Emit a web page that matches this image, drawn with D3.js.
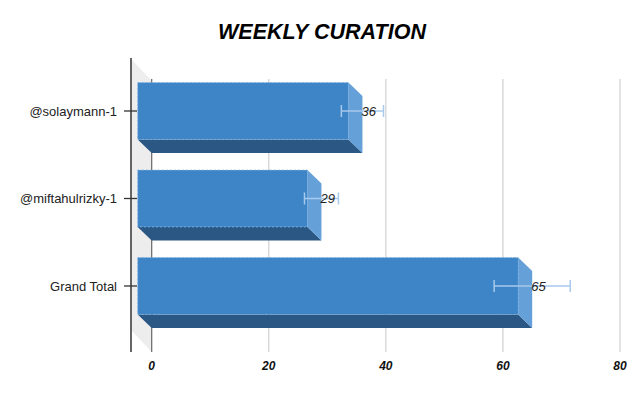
<!DOCTYPE html>
<html lang="en">
<head>
    <meta charset="UTF-8">
    <title>Weekly Curation</title>
    <script src="https://d3js.org/d3.v7.min.js"></script>
    <style>
        body { margin: 0; background: #fff; }
        svg { font-family: "Liberation Sans", Arial, sans-serif; }
    </style>
</head>
<body>
    <div id="chart"></div>
    <script>
        // Data
        const categories = ["@solaymann-1", "@miftahulrizky-1", "Grand Total"];
        const values = [36, 29, 65];
        const errorPct = 0.1;
        const xTicks = [0, 20, 40, 60, 80];

        const width = 640, height = 394;
        const depthX = 14, depthY = 13.5;

        const svg = d3.select("#chart")
            .append("svg")
            .attr("width", width)
            .attr("height", height);

        // Scales
        const x = d3.scaleLinear()
            .domain([0, 80])
            .range([151.7, 620]);

        const y = d3.scaleBand()
            .domain(categories)
            .range([67.25, 329.75])
            .paddingInner(0.35)
            .paddingOuter(0.175);

        const axisX = 131, plotTop = 59, plotBottom = 352;

        // Title
        svg.append("text")
            .attr("x", 322)
            .attr("y", 39)
            .attr("text-anchor", "middle")
            .attr("font-size", "21.5px")
            .attr("font-weight", "bold")
            .attr("font-style", "italic")
            .attr("fill", "#000")
            .text("WEEKLY CURATION");

        // Side wall (3d)
        svg.append("polygon")
            .attr("points", [
                [axisX, plotTop], [x(0), plotTop + 22],
                [x(0), plotBottom], [axisX, plotBottom - 22]
            ].map(p => p.join(",")).join(" "))
            .attr("fill", "#ededed");

        // Vertical grid lines
        svg.append("g")
            .selectAll("line")
            .data(xTicks)
            .join("line")
            .attr("x1", d => x(d))
            .attr("x2", d => x(d))
            .attr("y1", plotTop + 20)
            .attr("y2", plotBottom)
            .attr("stroke", d => d === 0 ? "#666" : "#d0d0d0")
            .attr("stroke-width", 1.2);

        // X tick labels
        svg.append("g")
            .selectAll("text")
            .data(xTicks)
            .join("text")
            .attr("x", d => x(d))
            .attr("y", 370)
            .attr("text-anchor", "middle")
            .attr("font-size", "12px")
            .attr("font-weight", "bold")
            .attr("font-style", "italic")
            .attr("fill", "#111")
            .text(d => d);

        // Left axis
        svg.append("line")
            .attr("x1", axisX).attr("x2", axisX)
            .attr("y1", plotTop - 1).attr("y2", plotBottom)
            .attr("stroke", "#333")
            .attr("stroke-width", 1.5);

        // Category ticks and labels
        const cat = svg.append("g")
            .selectAll("g")
            .data(categories)
            .join("g")
            .attr("transform", d => `translate(0, ${y(d) + y.bandwidth() / 2})`);

        cat.append("line")
            .attr("x1", 124).attr("x2", 137)
            .attr("stroke", "#333")
            .attr("stroke-width", 1.3);

        cat.append("text")
            .attr("x", 117)
            .attr("dy", "0.35em")
            .attr("text-anchor", "end")
            .attr("font-size", "13px")
            .attr("fill", "#222")
            .text(d => d);

        // Bars (3d boxes)
        const bars = svg.append("g")
            .selectAll("g")
            .data(values)
            .join("g");

        const pts = arr => arr.map(p => p.join(",")).join(" ");

        // bottom face
        bars.append("polygon")
            .attr("points", (d, i) => {
                const yb = y(categories[i]) + y.bandwidth();
                return pts([[x(0) - depthX, yb], [x(d) - depthX, yb], [x(d), yb + depthY], [x(0), yb + depthY]]);
            })
            .attr("fill", "#2a5784");

        // right face
        bars.append("polygon")
            .attr("points", (d, i) => {
                const yt = y(categories[i]), yb = yt + y.bandwidth();
                return pts([[x(d) - depthX, yt], [x(d), yt + depthY], [x(d), yb + depthY], [x(d) - depthX, yb]]);
            })
            .attr("fill", "#66a0d8");

        // front face
        bars.append("rect")
            .attr("x", x(0) - depthX)
            .attr("y", (d, i) => y(categories[i]))
            .attr("width", d => x(d) - x(0))
            .attr("height", y.bandwidth())
            .attr("fill", "#3d85c6")
            .attr("stroke", "#7aaee0")
            .attr("stroke-width", 0.8)
            .attr("stroke-dasharray", "2,2");

        // Error bars
        const err = bars.append("g")
            .attr("transform", (d, i) => `translate(0, ${y(categories[i]) + y.bandwidth() / 2})`)
            .attr("stroke", "#a9c9ec")
            .attr("stroke-width", 1.5);

        err.append("line")
            .attr("x1", d => x(d * (1 - errorPct)))
            .attr("x2", d => x(d * (1 + errorPct)));
        err.append("line")
            .attr("x1", d => x(d * (1 - errorPct)))
            .attr("x2", d => x(d * (1 - errorPct)))
            .attr("y1", -6).attr("y2", 6);
        err.append("line")
            .attr("x1", d => x(d * (1 + errorPct)))
            .attr("x2", d => x(d * (1 + errorPct)))
            .attr("y1", -6).attr("y2", 6);

        // Value labels
        bars.append("text")
            .attr("x", d => x(d) - 1)
            .attr("y", (d, i) => y(categories[i]) + y.bandwidth() / 2)
            .attr("dy", "0.35em")
            .attr("font-size", "13px")
            .attr("font-style", "italic")
            .attr("fill", "#222")
            .text(d => d);
    </script>
</body>
</html>
